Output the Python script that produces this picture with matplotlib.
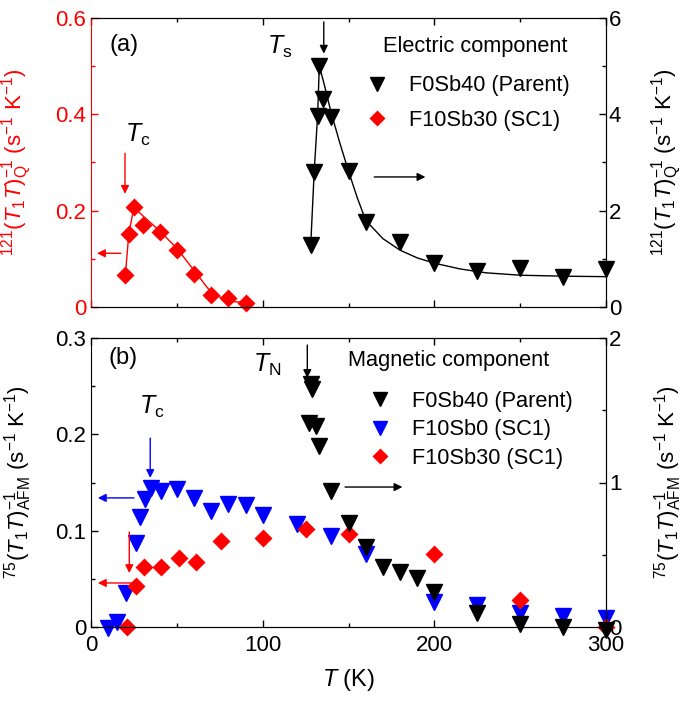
import numpy as np
import matplotlib.pyplot as plt
from matplotlib.ticker import MultipleLocator, FuncFormatter

plt.rcParams['font.family'] = ['Liberation Sans', 'DejaVu Sans']
plt.rcParams['mathtext.fontset'] = 'custom'
plt.rcParams['mathtext.rm'] = 'Liberation Sans'
plt.rcParams['mathtext.it'] = 'Liberation Sans:italic'
plt.rcParams['mathtext.bf'] = 'Liberation Sans:bold'

# (a) electric component, 121Sb
t_q_sc1 = [20, 22, 25, 30, 40, 50, 60, 70, 80, 90]
q_sc1 = [0.066, 0.151, 0.207, 0.171, 0.155, 0.118, 0.0685, 0.025, 0.019, 0.009]
# guide line drawn through F10Sb30 points
guide_t_sc1 = [20, 22, 25, 30, 40, 50, 60, 70, 80, 90]
guide_q_sc1 = [0.066, 0.151, 0.207, 0.190, 0.158, 0.122, 0.076, 0.030, 0.012, 0.009]

t_q_par = [128, 130, 132, 133, 135, 140, 150, 160, 180, 200, 225, 250, 275, 300]
q_par = [1.29, 2.80, 3.97, 5.01, 4.31, 3.95, 2.82, 1.77, 1.34, 0.91, 0.75, 0.82, 0.62, 0.78]
# guide line for the parent
guide_t_par = [128, 130, 132, 133, 136, 140, 145, 150, 155, 160, 170, 180, 190, 200,
               215, 230, 250, 275, 300]
guide_q_par = [1.29, 2.80, 3.97, 5.01, 4.60, 4.02, 3.40, 2.82, 2.28, 1.80, 1.42, 1.18,
               1.02, 0.91, 0.79, 0.71, 0.66, 0.64, 0.63]

# (b) magnetic component, 75As
t_m_par = [127, 128, 129, 131, 133, 140, 150, 160, 170, 180, 190, 200, 225, 250, 275, 300]
m_par = [1.41, 1.68, 1.65, 1.39, 1.25, 0.943, 0.722, 0.556, 0.417, 0.378, 0.337, 0.244,
         0.095, 0.021, 0.0, -0.02]

t_m_sc0 = [10, 15, 20.5, 26, 28.5, 31.5, 35, 41, 50, 60, 70, 80, 90, 100, 120, 140, 160,
           200, 225, 250, 275, 300]
m_sc0 = [-0.001, 0.005, 0.0356, 0.0875, 0.114, 0.133, 0.144, 0.141, 0.143, 0.134, 0.120,
         0.128, 0.127, 0.116, 0.107, 0.0945, 0.0758, 0.0263, 0.0228, 0.0149, 0.0114, 0.009]

t_m_sc30 = [21, 26.5, 31, 41, 51, 61, 76, 100, 125, 150, 200, 250, 300]
m_sc30 = [0.0, 0.043, 0.0626, 0.062, 0.0713, 0.067, 0.089, 0.092, 0.1017, 0.0962, 0.0755,
          0.028, 0.0]

W, H = 684, 702
fig = plt.figure(figsize=(W / 100, H / 100), dpi=100)
ax1 = fig.add_axes([91 / W, 1 - 307 / H, 515 / W, 289 / H])
ax2 = fig.add_axes([91 / W, 1 - 627 / H, 515 / W, 289 / H])
ax1r = ax1.twinx()
ax2r = ax2.twinx()

fs_tick = 16
fs_lab = 16
fs_leg = 15.7
fs_sym = 18


def zero_fmt(v, pos):
    return '0' if abs(v) < 1e-9 else ('%g' % v)


for ax in (ax1, ax2):
    ax.set_xlim(0, 300)
    ax.xaxis.set_major_locator(MultipleLocator(100))
    ax.xaxis.set_minor_locator(MultipleLocator(50))
    ax.tick_params(which='both', direction='in', top=True, right=False,
                   labelsize=fs_tick, width=1)
    ax.tick_params(which='major', length=5)
    ax.tick_params(which='minor', length=3)
    ax.yaxis.set_major_formatter(FuncFormatter(zero_fmt))
for axr in (ax1r, ax2r):
    axr.tick_params(which='both', direction='in', labelsize=fs_tick, width=1, pad=2)
    axr.tick_params(which='major', length=5)
    axr.tick_params(which='minor', length=3)
    axr.spines['left'].set_visible(False)
    axr.yaxis.set_major_formatter(FuncFormatter(zero_fmt))

ax1.tick_params(axis='x', labelbottom=False)
ax2.tick_params(axis='x', pad=6)

# ---- panel (a) ----
red = '#ff0000'
ax1.set_ylim(0, 0.6)
ax1.yaxis.set_major_locator(MultipleLocator(0.2))
ax1.yaxis.set_minor_locator(MultipleLocator(0.1))
ax1.spines['left'].set_color(red)
ax1.tick_params(axis='y', which='both', colors=red)
ax1r.set_ylim(0, 6)
ax1r.yaxis.set_major_locator(MultipleLocator(2))
ax1r.yaxis.set_minor_locator(MultipleLocator(1))

ax1.plot(guide_t_sc1, guide_q_sc1, color=red, lw=1)
h_sc30a, = ax1.plot(t_q_sc1, q_sc1, 'D', color=red, ms=9, mec='none', ls='none',
                    clip_on=False)
ax1r.plot(guide_t_par, guide_q_par, color='black', lw=1)
h_para, = ax1r.plot(t_q_par, q_par, 'v', color='black', ms=12, ls='none', clip_on=False)

ax1.set_ylabel(r'$^{121}(T_{\mathrm{1}}T)^{-1}_{\mathrm{Q}}$ (s$^{-1}$ K$^{-1}$)',
               fontsize=fs_lab, color=red)
ax1.yaxis.set_label_coords(-0.11, 0.5)
ax1r.set_ylabel(r'$^{121}(T_{\mathrm{1}}T)^{-1}_{\mathrm{Q}}$ (s$^{-1}$ K$^{-1}$)',
                fontsize=fs_lab)
ax1r.yaxis.set_label_coords(1.085, 0.5)

arrow = dict(arrowstyle='-|>', lw=1, mutation_scale=12, shrinkA=0, shrinkB=0)
ax1.annotate('', xy=(135.6, 0.526), xytext=(135.6, 0.592),
             arrowprops=dict(arrow, color='black'))
ax1.annotate('', xy=(19.8, 0.235), xytext=(19.8, 0.319),
             arrowprops=dict(arrow, color=red))
ax1.annotate('', xy=(3.5, 0.1115), xytext=(17.4, 0.1115),
             arrowprops=dict(arrow, color=red))
ax1.annotate('', xy=(194.8, 0.27), xytext=(165, 0.27),
             arrowprops=dict(arrow, color='black'))

ax1.text(19.2, 0.544, '(a)', fontsize=17, ha='center', va='center')
ax1.text(102.4, 0.54, r'$T_{\mathrm{s}}$', fontsize=fs_sym, ha='left', va='center')
ax1.text(19.8, 0.357, r'$T_{\mathrm{c}}$', fontsize=fs_sym, ha='left', va='center')
ax1.text(169.9, 0.540, 'Electric component', fontsize=fs_leg, ha='left', va='center')

leg1 = ax1r.legend([h_para, h_sc30a], ['F0Sb40 (Parent)', 'F10Sb30 (SC1)'],
                   loc='upper left', bbox_to_anchor=(366.1 / W, 1 - 75.5 / H),
                   bbox_transform=fig.transFigure, frameon=False, fontsize=fs_leg,
                   handlelength=1.0, handletextpad=0.97, borderpad=0,
                   borderaxespad=0, labelspacing=0.61, markerscale=0.85)

# ---- panel (b) ----
blue = '#0000ff'
ax2.set_ylim(0, 0.3)
ax2.yaxis.set_major_locator(MultipleLocator(0.1))
ax2.yaxis.set_minor_locator(MultipleLocator(0.05))
ax2r.set_ylim(0, 2)
ax2r.yaxis.set_major_locator(MultipleLocator(1))
ax2r.yaxis.set_minor_locator(MultipleLocator(0.5))

h_sc0, = ax2.plot(t_m_sc0, m_sc0, 'v', color=blue, ms=12, ls='none', clip_on=False)
h_sc30b, = ax2.plot(t_m_sc30, m_sc30, 'D', color=red, ms=9, mec='none', ls='none',
                    clip_on=False)
h_parb, = ax2r.plot(t_m_par, m_par, 'v', color='black', ms=12, ls='none', clip_on=False)

ax2.set_ylabel(r'$^{75}(T_{\mathrm{1}}T)^{-1}_{\mathrm{AFM}}$ (s$^{-1}$ K$^{-1}$)',
               fontsize=fs_lab)
ax2.yaxis.set_label_coords(-0.11, 0.5)
ax2r.set_ylabel(r'$^{75}(T_{\mathrm{1}}T)^{-1}_{\mathrm{AFM}}$ (s$^{-1}$ K$^{-1}$)',
                fontsize=fs_lab)
ax2r.yaxis.set_label_coords(1.09, 0.5)
ax2.set_xlabel(r'$T$ (K)', fontsize=17, labelpad=8)

ax2.annotate('', xy=(126, 0.2585), xytext=(126, 0.2927),
             arrowprops=dict(arrow, color='black'))
ax2.annotate('', xy=(34.5, 0.1547), xytext=(34.5, 0.196),
             arrowprops=dict(arrow, color=blue))
ax2.annotate('', xy=(4, 0.134), xytext=(25, 0.134),
             arrowprops=dict(arrow, color=blue))
ax2.annotate('', xy=(22.3, 0.056), xytext=(22.3, 0.0986),
             arrowprops=dict(arrow, color=red))
ax2.annotate('', xy=(4, 0.0457), xytext=(25, 0.0457),
             arrowprops=dict(arrow, color=red))
ax2.annotate('', xy=(181.4, 0.1453), xytext=(148, 0.1453),
             arrowprops=dict(arrow, color='black'))

ax2.text(18.6, 0.279, '(b)', fontsize=17, ha='center', va='center')
ax2.text(94.4, 0.272, r'$T_{\mathrm{N}}$', fontsize=fs_sym, ha='left', va='center')
ax2.text(28, 0.228, r'$T_{\mathrm{c}}$', fontsize=fs_sym, ha='left', va='center')
ax2.text(149.7, 0.277, 'Magnetic component', fontsize=fs_leg, ha='left', va='center')

leg2 = ax2r.legend([h_parb, h_sc0, h_sc30b],
                   ['F0Sb40 (Parent)', 'F10Sb0 (SC1)', 'F10Sb30 (SC1)'],
                   loc='upper left', bbox_to_anchor=(369.1 / W, 1 - 391 / H),
                   bbox_transform=fig.transFigure, frameon=False, fontsize=fs_leg,
                   handlelength=1.0, handletextpad=0.97, borderpad=0,
                   borderaxespad=0, labelspacing=0.34, markerscale=0.85)

fig.savefig('out.png', dpi=100)
